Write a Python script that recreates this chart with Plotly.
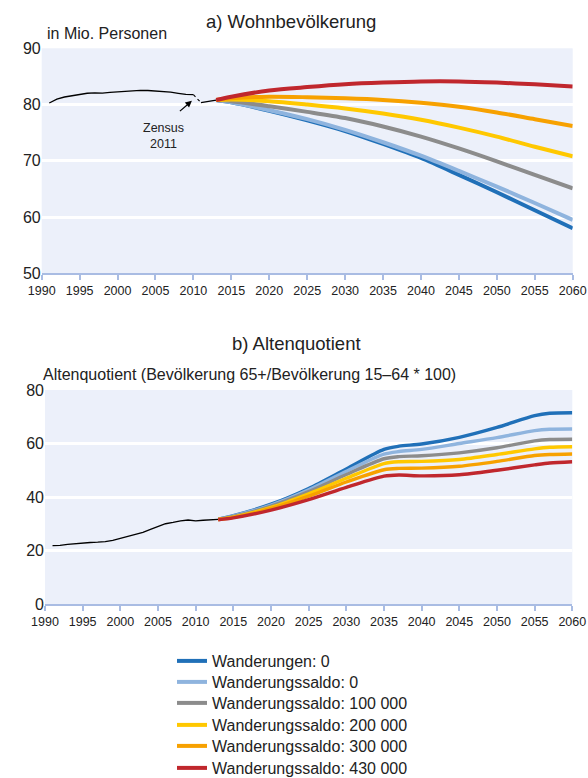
import plotly.graph_objects as go

# ---------------- data ----------------
hist_years = list(range(1991, 2011))
hist_pop = [80.27, 80.97, 81.34, 81.54, 81.82, 82.01, 82.06, 82.04, 82.16, 82.26,
            82.44, 82.54, 82.53, 82.50, 82.44, 82.31, 82.22, 82.00, 81.80, 81.75]
zensus_years = [2011, 2012, 2013]
zensus_pop = [80.33, 80.52, 80.77]

proj_years_a = [2013, 2015, 2020, 2025, 2030, 2035, 2040, 2045, 2050, 2055, 2060]
series_names = ["Wanderungen: 0", "Wanderungssaldo: 0", "Wanderungssaldo: 100 000",
                "Wanderungssaldo: 200 000", "Wanderungssaldo: 300 000", "Wanderungssaldo: 430 000"]
series_colors = ["#2070B8", "#8FB4DE", "#8C8C8C", "#FFC800", "#F7A100", "#C0272D"]

pop_w0 = [80.8, 80.4, 78.9, 77.2, 75.3, 73.0, 70.5, 67.5, 64.4, 61.2, 58.0]
pop_s0 = [80.8, 80.4, 79.0, 77.4, 75.5, 73.3, 70.9, 68.2, 65.4, 62.5, 59.5]
pop_s100 = [80.8, 80.6, 79.7, 78.7, 77.6, 76.1, 74.3, 72.2, 69.9, 67.5, 65.1]
pop_s200 = [80.8, 80.9, 80.6, 80.0, 79.3, 78.4, 77.3, 75.9, 74.3, 72.5, 70.8]
pop_s300 = [80.8, 81.1, 81.4, 81.3, 81.1, 80.8, 80.3, 79.6, 78.6, 77.4, 76.2]
pop_s430 = [80.8, 81.4, 82.5, 83.1, 83.6, 83.9, 84.1, 84.1, 83.9, 83.6, 83.2]

hist_aq_years = list(range(1991, 2014))
hist_aq = [21.8, 21.9, 22.3, 22.6, 22.8, 23.0, 23.1, 23.3, 23.8, 24.5, 25.2, 26.0,
           26.8, 27.9, 29.1, 30.0, 30.5, 31.1, 31.4, 31.1, 31.3, 31.5, 31.6]

proj_years_b = [2013, 2015, 2020, 2025, 2030, 2035, 2037, 2040, 2045, 2050, 2055, 2057, 2060]
aq_w0 = [31.7, 33.0, 37.3, 43.2, 50.5, 57.8, 59.0, 59.8, 62.3, 66.0, 70.4, 71.3, 71.5]
aq_s0 = [31.7, 32.9, 37.0, 42.7, 49.6, 56.0, 57.0, 57.8, 60.0, 62.2, 64.8, 65.3, 65.4]
aq_s100 = [31.7, 32.7, 36.6, 42.0, 48.4, 54.3, 55.1, 55.4, 56.5, 58.4, 61.0, 61.5, 61.6]
aq_s200 = [31.6, 32.5, 36.1, 41.2, 47.0, 52.5, 53.2, 53.3, 54.0, 55.9, 58.0, 58.6, 58.8]
aq_s300 = [31.6, 32.4, 35.7, 40.3, 45.6, 50.2, 50.7, 50.8, 51.5, 53.3, 55.5, 55.9, 56.1]
aq_s430 = [31.5, 32.2, 35.1, 39.0, 43.6, 47.8, 48.2, 47.9, 48.3, 50.0, 52.0, 52.7, 53.2]

x_ticks = list(range(1990, 2061, 5))

pop_series = [pop_w0, pop_s0, pop_s100, pop_s200, pop_s300, pop_s430]
aq_series = [aq_w0, aq_s0, aq_s100, aq_s200, aq_s300, aq_s430]

# ---------------- figure ----------------
W, H = 588, 778
FONT = "Liberation Sans, Arial, sans-serif"
BG = "#ECF0FA"
AXC = "#A9BCE3"
legend_rows = [661, 682, 703, 725, 746, 768]

def px(x):
    return x / W

def py(y):
    return 1 - y / H

fig = go.Figure()

# historical lines (top)
fig.add_trace(go.Scatter(x=hist_years, y=hist_pop, mode="lines",
                         line=dict(color="black", width=1.3), showlegend=False,
                         xaxis="x", yaxis="y", hoverinfo="skip"))
fig.add_trace(go.Scatter(x=[hist_years[-1], zensus_years[0]], y=[hist_pop[-1], zensus_pop[0]],
                         mode="lines", line=dict(color="black", width=1.1, dash="dot"),
                         showlegend=False, xaxis="x", yaxis="y", hoverinfo="skip"))
fig.add_trace(go.Scatter(x=zensus_years, y=zensus_pop, mode="lines",
                         line=dict(color="black", width=1.3), showlegend=False,
                         xaxis="x", yaxis="y", hoverinfo="skip"))

for i, (name, col, vals) in enumerate(zip(series_names, series_colors, pop_series)):
    fig.add_trace(go.Scatter(x=proj_years_a, y=vals, mode="lines", name=name,
                             line=dict(color=col, width=4, shape="spline", smoothing=0.8),
                             legendgroup=name, showlegend=True,
                             legend="legend" if i == 0 else f"legend{i+1}",
                             xaxis="x", yaxis="y"))

# bottom
fig.add_trace(go.Scatter(x=hist_aq_years, y=hist_aq, mode="lines",
                         line=dict(color="black", width=1.3), showlegend=False,
                         xaxis="x2", yaxis="y2", hoverinfo="skip"))
for name, col, vals in zip(series_names, series_colors, aq_series):
    fig.add_trace(go.Scatter(x=proj_years_b, y=vals, mode="lines", name=name,
                             line=dict(color=col, width=3.4, shape="spline", smoothing=0.8),
                             legendgroup=name, showlegend=False, xaxis="x2", yaxis="y2"))

xaxis_common = dict(range=[1990, 2060], tickvals=x_ticks, showline=True, linecolor=AXC,
                    linewidth=1.5, ticks="outside", tickcolor=AXC, ticklen=5, tickwidth=1.5,
                    showgrid=False, zeroline=False, automargin=False,
                    tickfont=dict(size=12.5, color="#222"))
yaxis_common = dict(showline=False, ticks="", showgrid=True, gridcolor="white", gridwidth=3,
                    zeroline=False, automargin=False, tickfont=dict(size=16, color="#222"))

layout = dict(
    width=W, height=H, margin=dict(l=0, r=0, t=0, b=0, autoexpand=False),
    paper_bgcolor="white", plot_bgcolor=BG,
    font=dict(family=FONT, color="#222"),
    xaxis=dict(domain=[px(41.7), px(572.7)], anchor="y", **xaxis_common),
    yaxis=dict(domain=[py(273.3), py(48.3)], anchor="x", range=[50, 90],
               tickvals=[50, 60, 70, 80, 90], **yaxis_common),
    xaxis2=dict(domain=[px(45), px(572.3)], anchor="y2", **xaxis_common),
    yaxis2=dict(domain=[py(604), py(390)], anchor="x2", range=[0, 80],
                tickvals=[0, 20, 40, 60, 80], **yaxis_common),
    showlegend=True,
)
for i, yc in enumerate(legend_rows):
    key = "legend" if i == 0 else f"legend{i+1}"
    layout[key] = dict(x=px(172), y=py(yc), xanchor="left", yanchor="middle",
                       font=dict(size=16, color="#222"), bgcolor="rgba(0,0,0,0)",
                       itemwidth=30, borderwidth=0)
fig.update_layout(**layout)

annotations = [
    dict(text="a) Wohnbevölkerung", x=px(290.5), y=py(22), xref="paper", yref="paper",
         xanchor="center", yanchor="middle", showarrow=False, font=dict(size=18.5)),
    dict(text="in Mio. Personen", x=px(45), y=py(33), xref="paper", yref="paper",
         xanchor="left", yanchor="middle", showarrow=False, font=dict(size=16)),
    dict(text="b) Altenquotient", x=px(297), y=py(343), xref="paper", yref="paper",
         xanchor="center", yanchor="middle", showarrow=False, font=dict(size=18.5)),
    dict(text="Altenquotient (Bevölkerung 65+/Bevölkerung 15–64 * 100)", x=px(41), y=py(375),
         xref="paper", yref="paper", xanchor="left", yanchor="middle", showarrow=False,
         font=dict(size=16)),
    dict(text="Zensus<br>2011", x=2006.0, y=74.4, xref="x", yref="y",
         xanchor="center", yanchor="middle", showarrow=False, font=dict(size=12.5)),
    dict(text=" ", x=2009.8, y=80.66, xref="x", yref="y", ax=-14, ay=12,
         showarrow=True, arrowhead=2, arrowsize=1, arrowwidth=1.3, arrowcolor="black",
         font=dict(size=2)),
]
fig.update_layout(annotations=annotations)

fig.write_html("out.html", config={"displayModeBar": False},
               post_script="document.body.style.margin='0px';document.body.style.overflow='hidden';")
